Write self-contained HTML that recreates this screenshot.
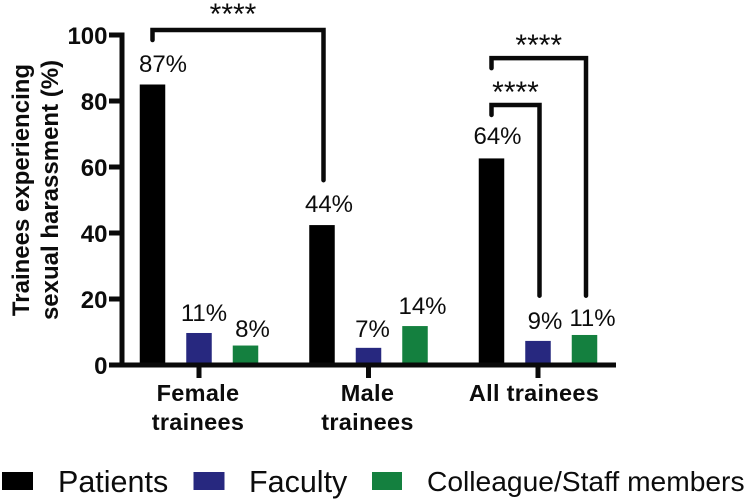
<!DOCTYPE html>
<html lang="en">
<head>
<meta charset="utf-8">
<title>Trainees experiencing sexual harassment</title>
<style>
html,body{margin:0;padding:0;background:#fff;}
#chart{display:block;width:748px;height:502px;font-family:"Liberation Sans",sans-serif;fill:#0c0c0c;filter:blur(0.35px);}
.tick{font-weight:700;font-size:24px;text-anchor:end;}
.pct{font-size:24px;text-anchor:middle;}
.cat{font-weight:700;font-size:23.5px;text-anchor:middle;letter-spacing:.3px;}
.ttl{font-weight:700;font-size:24px;text-anchor:middle;}
.star{font-size:30px;text-anchor:middle;}
</style>
</head>
<body>
<svg id="chart" xmlns="http://www.w3.org/2000/svg" width="748" height="502" viewBox="0 0 748 502">
  <g>
    <text class="ttl" transform="translate(29 190) rotate(-90)">Trainees experiencing</text>
    <text class="ttl" transform="translate(58 190) rotate(-90)">sexual harassment (%)</text>
  </g>
  <g id="bars"></g>
  <g id="axes"></g>
  <g id="labels"></g>
  <g id="brackets"></g>
  <g>
    <rect x="2" y="472" width="31" height="18" fill="#000"/>
    <text x="58" y="492" font-size="30.5">Patients</text>
    <rect x="193.5" y="472" width="31" height="18" fill="#27287f"/>
    <text x="249" y="492" font-size="30.5">Faculty</text>
    <rect x="372" y="472" width="30" height="18" fill="#14803f"/>
    <text x="427" y="491" font-size="28.2">Colleague/Staff members</text>
  </g>
</svg>
<script>
const categories = [["Female", "trainees"], ["Male", "trainees"], ["All trainees"]];
const seriesNames = ["patients", "faculty", "colleague-staff"];
const patients = [85, 42.4, 62.6];
const faculty = [9.7, 5.2, 7.3];
const colleagueStaff = [5.9, 11.8, 9.1];
const patientsLabels = ["87%", "44%", "64%"];
const facultyLabels = ["11%", "7%", "9%"];
const colleagueStaffLabels = ["8%", "14%", "11%"];
const yTicks = [0, 20, 40, 60, 80, 100];
const bracketStars = ["****", "****", "****"];
const bracketLevels = [101.5, 78.8, 93];
const bracketEndLevels = [56, 21, 21];

const NS = "http://www.w3.org/2000/svg";
const colors = ["#000000", "#27287f", "#14803f"];
const values = [patients, faculty, colleagueStaff];
const printed = [patientsLabels, facultyLabels, colleagueStaffLabels];
const y = v => 365 - v * 3.3;
const groupX = g => 199 + g * 169.5;
const barX = (g, s) => groupX(g) + (s - 1) * 46.5;
const barW = 25.5;

function make(tag, parent, attrs, text) {
  const el = document.createElementNS(NS, tag);
  for (const k in attrs) el.setAttribute(k, attrs[k]);
  if (text !== undefined) el.textContent = text;
  parent.appendChild(el);
  return el;
}

const barsG = document.getElementById("bars");
const axesG = document.getElementById("axes");
const labelsG = document.getElementById("labels");
const bracketsG = document.getElementById("brackets");

/* Label nudges relative to the bar top: [series][group] = [dx, dy] */
const labelNudge = [
  [[10.5, -12.5], [7, -13], [6, -14.5]],
  [[5, -12], [4, -11], [7, -12]],
  [[7, -8.5], [7.5, -12], [8, -9]]
];

values.forEach((vals, s) => {
  vals.forEach((v, g) => {
    const r = make("rect", barsG, {
      x: barX(g, s) - barW / 2,
      y: y(v),
      width: barW,
      height: y(0) - y(v) + (s === 0 ? 2 : 0),
      fill: colors[s]
    });
    
    
    r.setAttribute('data-series', seriesNames[s]);

    const t = make("text", labelsG, {
      class: "pct",
      x: barX(g, s) + labelNudge[s][g][0],
      y: y(v) + labelNudge[s][g][1]
    }, printed[s][g]);
    
    
  });
});

/* Axes */
const axisColor = "#0a0a0a";
const yLine = make("line", axesG, {x1: 122, x2: 122, y1: y(100) - 2.5, y2: y(0) + 2.5, stroke: axisColor, "stroke-width": 5});


const xLine = make("line", axesG, {x1: 109, x2: 616, y1: y(0), y2: y(0), stroke: axisColor, "stroke-width": 5});



yTicks.forEach(v => {
  const tk = make("line", axesG, {x1: 109, x2: 122, y1: y(v), y2: y(v), stroke: axisColor, "stroke-width": 5});
  
  
  const lb = make("text", axesG, {class: "tick", x: 107.5, y: y(v) + 9}, String(v));
  
  
});

categories.forEach((lines, g) => {
  const tk = make("line", axesG, {x1: groupX(g), x2: groupX(g), y1: y(0), y2: 378, stroke: axisColor, "stroke-width": 5});
  
  
  lines.forEach((line, i) => {
    const lb = make("text", axesG, {class: "cat", x: groupX(g) - (g === 2 ? 4 : 1), y: 401 + i * 29}, line);
    
    
  });
});

/* Significance brackets: from the patients bar of a group to a target bar */
const bracketFrom = [[0, 0], [2, 0], [2, 0]];
const bracketTo = [[1, 0], [2, 1], [2, 2]];
bracketStars.forEach((stars, i) => {
  const x1 = barX(bracketFrom[i][0], bracketFrom[i][1]);
  const x2 = barX(bracketTo[i][0], bracketTo[i][1]) + 1.5;
  const top = y(bracketLevels[i]);
  const p = make("path", bracketsG, {
    d: `M${x1} ${top + 10}V${top}H${x2}V${y(bracketEndLevels[i])}`,
    fill: "none",
    stroke: "#0a0a0a",
    "stroke-width": 4.5,
    "stroke-linecap": "round",
    "stroke-linejoin": "miter"
  });
  
  
  const t = make("text", bracketsG, {class: "star", x: (x1 + x2) / 2 + (i === 0 ? -5 : 0), y: top - 3 + (i === 0 ? -3 : 0)}, stars);
  
  
});
</script>
</body>
</html>
